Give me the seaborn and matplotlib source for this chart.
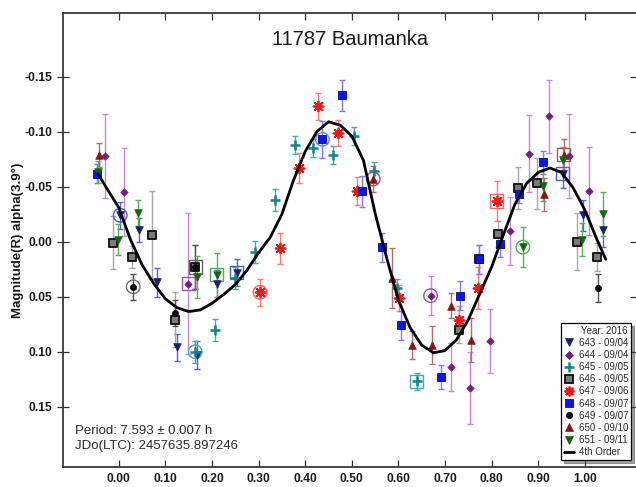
import matplotlib
matplotlib.use("Agg")
import matplotlib.pyplot as plt
from matplotlib.lines import Line2D
import seaborn as sns

# ---------------- data ----------------
# Session 643 - 09/04
s643_phase = [0.003, 0.044, 0.081, 0.124, 0.167, 0.210, 0.253, 0.953, 0.997, 1.038]
s643_mag = [-0.024, -0.011, 0.037, 0.096, 0.103, 0.038, 0.028, -0.062, -0.024, -0.011]
s643_err = [0.012, 0.011, 0.013, 0.012, 0.013, 0.012, 0.012, 0.013, 0.014, 0.016]
s643_ring = ["o", "", "", "", "", "", "s", "s", "", ""]

# Session 644 - 09/04
s644_phase = [-0.030, 0.012, 0.149, 0.669, 0.712, 0.754, 0.797, 0.840, 0.881, 0.924, 0.967, 1.008]
s644_mag = [-0.078, -0.045, 0.038, 0.049, 0.114, 0.133, 0.090, -0.010, -0.080, -0.114, -0.078, -0.046]
s644_err = [0.038, 0.040, 0.064, 0.018, 0.022, 0.033, 0.029, 0.031, 0.035, 0.033, 0.038, 0.040]
s644_ring = ["", "", "s", "o", "", "", "", "", "", "", "", ""]

# Session 645 - 09/05
s645_phase = [0.164, 0.206, 0.249, 0.292, 0.335, 0.378, 0.417, 0.460, 0.505, 0.548, 0.596, 0.639]
s645_mag = [0.100, 0.080, 0.033, 0.009, -0.038, -0.088, -0.085, -0.079, -0.096, -0.064, 0.042, 0.127]
s645_err = [0.010, 0.010, 0.010, 0.010, 0.010, 0.008, 0.008, 0.008, 0.008, 0.008, 0.008, 0.008]
s645_ring = ["o", "", "", "", "", "", "", "", "", "", "", "s"]

# Session 646 - 09/05
s646_phase = [-0.012, 0.028, 0.071, 0.121, 0.164, 0.731, 0.773, 0.813, 0.856, 0.898, 0.984, 1.026]
s646_mag = [0.001, 0.014, -0.006, 0.071, 0.023, 0.080, 0.016, -0.007, -0.049, -0.053, 0.000, 0.014]
s646_err = [0.024, 0.010, 0.040, 0.025, 0.020, 0.012, 0.013, 0.012, 0.019, 0.023, 0.026, 0.013]
s646_ring = ["", "", "", "", "s", "", "", "", "", "", "", ""]

# Session 647 - 09/06
s647_phase = [0.303, 0.346, 0.387, 0.428, 0.470, 0.512, 0.602, 0.729, 0.770, 0.811]
s647_mag = [0.046, 0.006, -0.067, -0.123, -0.099, -0.046, 0.051, 0.071, 0.042, -0.037]
s647_err = [0.012, 0.014, 0.014, 0.012, 0.012, 0.013, 0.012, 0.013, 0.019, 0.018]
s647_ring = ["o", "", "", "", "", "", "", "", "", "s"]

# Session 648 - 09/07
s648_phase = [-0.046, 0.437, 0.478, 0.521, 0.564, 0.605, 0.691, 0.732, 0.773, 0.817, 0.859, 0.910]
s648_mag = [-0.062, -0.093, -0.133, -0.046, 0.005, 0.076, 0.123, 0.049, 0.016, 0.002, -0.043, -0.072]
s648_err = [0.009, 0.017, 0.014, 0.014, 0.013, 0.013, 0.011, 0.013, 0.013, 0.012, 0.008, 0.010]
s648_ring = ["", "o", "", "", "", "", "", "", "", "", "", ""]

# Session 649 - 09/07
s649_phase = [0.031, 0.121, 0.164, 1.028]
s649_mag = [0.041, 0.065, 0.023, 0.042]
s649_err = [0.012, 0.012, 0.020, 0.013]
s649_ring = ["o", "", "", ""]

# Session 650 - 09/10
s650_phase = [-0.042, 0.546, 0.586, 0.629, 0.672, 0.713, 0.755, 0.913, 0.955]
s650_mag = [-0.079, -0.057, 0.033, 0.094, 0.094, 0.058, 0.089, -0.043, -0.079]
s650_err = [0.011, 0.012, 0.027, 0.013, 0.017, 0.011, 0.020, 0.015, 0.014]
s650_ring = ["", "o", "", "", "", "", "", "", "s"]

# Session 651 - 09/11
s651_phase = [-0.044, -0.001, 0.042, 0.168, 0.210, 0.867, 0.911, 0.953, 0.995, 1.038]
s651_mag = [-0.063, -0.002, -0.026, 0.032, 0.030, 0.005, -0.051, -0.074, -0.002, -0.025]
s651_err = [0.010, 0.014, 0.012, 0.019, 0.020, 0.018, 0.014, 0.012, 0.015, 0.020]
s651_ring = ["", "", "", "", "s", "o", "", "", "", ""]

# 4th order Fourier fit, sampled along the phase
fit_phase = [-0.045, -0.025, 0.000, 0.025, 0.050, 0.075, 0.100, 0.125, 0.150, 0.175,
             0.200, 0.225, 0.250, 0.275, 0.300, 0.325, 0.350, 0.375, 0.400, 0.425,
             0.450, 0.475, 0.500, 0.525, 0.550, 0.575, 0.600, 0.625, 0.650, 0.675,
             0.700, 0.725, 0.750, 0.775, 0.800, 0.825, 0.850, 0.875, 0.900, 0.925,
             0.950, 0.975, 1.000, 1.025, 1.045]
fit_mag = [-0.062, -0.048, -0.031, -0.002, 0.021, 0.038, 0.052, 0.060, 0.0635, 0.062,
           0.056, 0.048, 0.039, 0.026, 0.010, -0.004, -0.025, -0.056, -0.082, -0.100,
           -0.109, -0.106, -0.096, -0.074, -0.026, 0.015, 0.053, 0.078, 0.094, 0.101,
           0.099, 0.089, 0.071, 0.047, 0.023, -0.006, -0.034, -0.053, -0.063, -0.067,
           -0.063, -0.049, -0.029, -0.003, 0.016]

x_ticks = [0.0, 0.1, 0.2, 0.3, 0.4, 0.5, 0.6, 0.7, 0.8, 0.9, 1.0]
x_tick_labels = ["0.00", "0.10", "0.20", "0.30", "0.40", "0.50", "0.60", "0.70", "0.80", "0.90", "1.00"]
y_ticks = [-0.15, -0.10, -0.05, 0.0, 0.05, 0.10, 0.15]
y_tick_labels = ["-0.15", "-0.10", "-0.05", "0.00", "0.05", "0.10", "0.15"]

# ---------------- styling ----------------
sessions = [
    ("643 - 09/04", s643_phase, s643_mag, s643_err, s643_ring,
     dict(marker="v", color="#1c1c7a", edge="#1c1c7a", s=30, ecolor="#5c5cd6", ring="#4a5fd0")),
    ("644 - 09/04", s644_phase, s644_mag, s644_err, s644_ring,
     dict(marker="D", color="#7a1a80", edge="#7a1a80", s=14, ecolor="#c88ad4", ring="#a050b0")),
    ("645 - 09/05", s645_phase, s645_mag, s645_err, s645_ring,
     dict(marker="+", color="#138585", edge=None, s=42, lw=1.8, ecolor="#4aa8a8", ring="#48a8a8")),
    ("646 - 09/05", s646_phase, s646_mag, s646_err, s646_ring,
     dict(marker="s", color="#7a7a7a", edge="#1a1a1a", s=30, lw=1.4, ecolor="#a8a8a8", ring="#606060")),
    ("647 - 09/06", s647_phase, s647_mag, s647_err, s647_ring,
     dict(marker=(8, 2, 0), color="#ff1010", edge=None, s=50, lw=1.3, ecolor="#ff7a7a", ring="#ff6060")),
    ("648 - 09/07", s648_phase, s648_mag, s648_err, s648_ring,
     dict(marker="s", color="#0a14ff", edge="#0a0a90", s=30, lw=0.6, ecolor="#7a7aff", ring="#7080ff")),
    ("649 - 09/07", s649_phase, s649_mag, s649_err, s649_ring,
     dict(marker="o", color="#0a0a0a", edge="#0a0a0a", s=20, ecolor="#505050", ring="#707070")),
    ("650 - 09/10", s650_phase, s650_mag, s650_err, s650_ring,
     dict(marker="^", color="#8a1414", edge="#8a1414", s=30, ecolor="#b86a6a", ring="#b05050")),
    ("651 - 09/11", s651_phase, s651_mag, s651_err, s651_ring,
     dict(marker="v", color="#0c6a0c", edge="#0c6a0c", s=30, ecolor="#5ab05a", ring="#50b050")),
]

sns.set_style("ticks")
plt.rcParams["font.family"] = ["Liberation Sans", "DejaVu Sans"]
plt.rcParams["axes.unicode_minus"] = False

fig = plt.figure(figsize=(6.36, 4.87), dpi=100)
ax = fig.add_axes([63 / 636, 20 / 487, 574 / 636, 454 / 487])

# error bars first, then markers, rings and the fit on top
for label, ph, mg, er, rg, st in sessions:
    ax.errorbar(ph, mg, yerr=er, fmt="none", ecolor=st["ecolor"], elinewidth=1.0,
                capsize=1.9, capthick=1.0, zorder=2)

for label, ph, mg, er, rg, st in sessions:
    kw = dict(marker=st["marker"], s=st["s"], color=st["color"], zorder=4, ax=ax, legend=False)
    if st["edge"] is not None:
        kw["edgecolor"] = st["edge"]
        kw["linewidth"] = st.get("lw", 0.5)
    else:
        kw["linewidth"] = st.get("lw", 1.5)
    sns.scatterplot(x=ph, y=mg, **kw)
    for shape in ("o", "s"):
        rx = [p for p, r in zip(ph, rg) if r == shape]
        ry = [m for m, r in zip(mg, rg) if r == shape]
        if rx:
            sns.scatterplot(x=rx, y=ry, marker=shape, s=95 if shape == "o" else 90,
                            facecolor="none", edgecolor=st["ring"], color=st["ring"],
                            linewidth=1.0, zorder=3, ax=ax, legend=False)

sns.lineplot(x=fit_phase, y=fit_mag, sort=False, color="black", linewidth=2.0,
             zorder=5, ax=ax, legend=False)

# axes
ax.set_xlim(-0.1197, 1.112)
ax.set_ylim(0.2048, -0.2079)
ax.set_xticks(x_ticks)
ax.set_xticklabels(x_tick_labels)
ax.set_yticks(y_ticks)
ax.set_yticklabels(y_tick_labels)
for t in ax.get_xticklabels() + ax.get_yticklabels():
    t.set_fontweight("bold")
    t.set_fontsize(8.7)
    t.set_color("#1a1a1a")
ax.tick_params(axis="x", direction="in", top=True, bottom=True, length=5, width=0.9,
               pad=4, color="#333333")
ax.tick_params(axis="y", direction="inout", left=True, right=False, length=9, width=0.9,
               pad=3, color="#333333")
sec = ax.secondary_yaxis("right")
sec.set_yticks(y_ticks)
sec.tick_params(direction="in", length=5, width=0.9, labelright=False, color="#333333")
for sp in ax.spines.values():
    sp.set_linewidth(1.3)
    sp.set_color("#3a3a3a")
    sp.set_visible(True)
ax.grid(False)

ax.set_xlabel("")
ax.set_ylabel("Magnitude(R) alpha(3.9°)", fontsize=9.5, fontweight="bold", color="#1a1a1a")
ax.yaxis.label.set_va("center")
ax.yaxis.set_label_coords((18 - 63) / 574, 0.5)

ax.set_title("11787 Baumanka", fontsize=14.5, color="#1a1a1a", y=0.93, pad=0)

ax.text(0.021, 0.079, "Period: 7.593 \u00b1 0.007 h", transform=ax.transAxes,
        fontsize=9.5, color="#2a2a2a", ha="left", va="center")
ax.text(0.021, 0.046, "JDo(LTC): 2457635.897246", transform=ax.transAxes,
        fontsize=9.5, color="#2a2a2a", ha="left", va="center")

# legend
handles = []
for label, ph, mg, er, rg, st in sessions:
    m = st["marker"]
    ms = st["s"] ** 0.5
    if st["edge"] is not None:
        h = Line2D([], [], linestyle="none", marker=m, markersize=ms, markerfacecolor=st["color"],
                   markeredgecolor=st["edge"], markeredgewidth=st.get("lw", 0.5), label=label)
    else:
        h = Line2D([], [], linestyle="none", marker=m, markersize=ms, color=st["color"],
                   markeredgewidth=st.get("lw", 1.5), label=label)
    handles.append(h)
handles.append(Line2D([], [], color="black", linewidth=2.0, label="4th Order"))

leg = ax.legend(handles=handles, title="Year: 2016", loc="lower right",
                bbox_to_anchor=(0.9895, 0.0154), borderaxespad=0.0, frameon=True,
                fancybox=False, shadow=True, edgecolor="black", framealpha=1.0,
                fontsize=7, title_fontsize=7, labelspacing=0.22, handlelength=1.0,
                handletextpad=0.5, borderpad=0.3, alignment="right")
leg.get_frame().set_linewidth(0.9)
for t in leg.get_texts():
    t.set_color("#2a2a2a")
leg.get_title().set_color("#2a2a2a")
leg.set_zorder(10)

fig.savefig("out.png", dpi=100)
